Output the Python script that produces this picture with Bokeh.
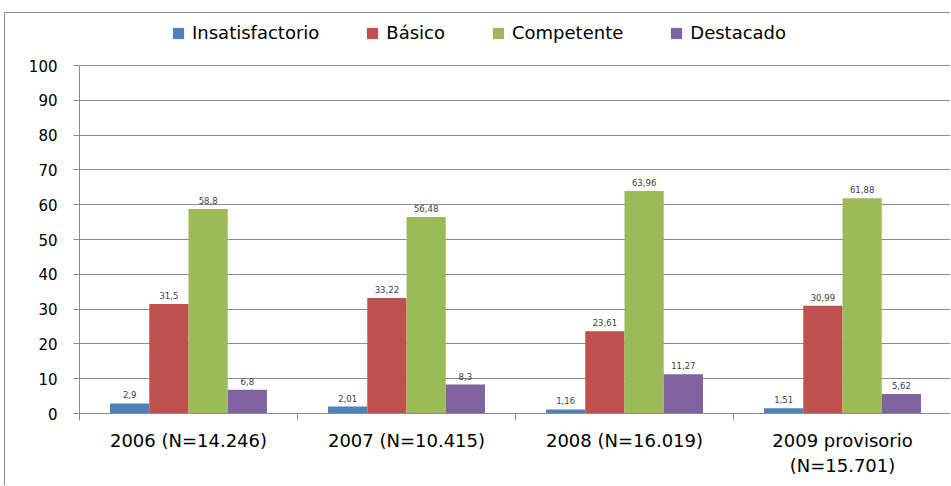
from bokeh.plotting import figure
from bokeh.models import ColumnDataSource, FixedTicker, Legend, LegendItem, LabelSet
from bokeh.core.properties import value
from bokeh.transform import dodge
from bokeh.embed import file_html
from bokeh.resources import INLINE

categories = ["2006 (N=14.246)", "2007 (N=10.415)", "2008 (N=16.019)", "2009 provisorio\n(N=15.701)"]
series_names = ["Insatisfactorio", "Básico", "Competente", "Destacado"]
insatisfactorio = [2.9, 2.01, 1.16, 1.51]
basico = [31.5, 33.22, 23.61, 30.99]
competente = [58.8, 56.48, 63.96, 61.88]
destacado = [6.8, 8.3, 11.27, 5.62]
colors = ["#4F81BD", "#C0504D", "#9BBB59", "#8064A2"]
y_ticks = list(range(0, 101, 10))

values = [insatisfactorio, basico, competente, destacado]
centers = [i + 0.5 for i in range(len(categories))]

FONT = "DejaVu Sans"
GRID = "#8c8c8c"

W, H = 946, 473
TOP, BOTTOM = 1, 73
frame_h = H - TOP - BOTTOM
y_end = 100 * frame_h / 348.0  # leave room above 100 for the legend

p = figure(width=W, height=H, x_range=(0, len(categories)), y_range=(0, y_end),
           output_backend="svg", toolbar_location=None,
           min_border_left=74, min_border_right=0, min_border_top=TOP, min_border_bottom=BOTTOM)
p.outline_line_color = None
p.styles = {"margin-left": "4px", "margin-top": "12px",
            "border-left": "1px solid #8c8c8c", "border-top": "1px solid #8c8c8c"}

data = {"x": centers}
for name, vals in zip(series_names, values):
    data[name] = vals
    data[name + "_lbl"] = [f"{v:g}".replace(".", ",") for v in vals]
src = ColumnDataSource(data)

bar_w = 0.18
offsets = [-0.27, -0.09, 0.09, 0.27]
items = []
for name, col, off in zip(series_names, colors, offsets):
    r = p.vbar(x=dodge("x", off), top=name, width=bar_w, source=src, color=col, line_color=None)
    items.append(LegendItem(label=name, renderers=[r]))
    lbl = LabelSet(x=dodge("x", off), y=name, text=name + "_lbl", source=src,
                   text_align="center", text_baseline="bottom", y_offset=5,
                   text_font=value(FONT), text_font_size="8.5px", text_color="#404040")
    p.add_layout(lbl)

legend = Legend(items=items, orientation="horizontal", location=(92, frame_h - 29),
                label_text_font=FONT, label_text_font_size="18px", label_text_color="#000000",
                glyph_width=14, glyph_height=14, label_standoff=7, spacing=46,
                border_line_color=None, background_fill_alpha=0, margin=0, padding=6)
p.add_layout(legend)

# y axis
p.yaxis.ticker = FixedTicker(ticks=y_ticks, minor_ticks=[])
p.yaxis.bounds = (0, 100)
p.yaxis.axis_line_color = GRID
p.yaxis.major_tick_line_color = GRID
p.yaxis.major_tick_out = 6
p.yaxis.major_tick_in = 0
p.yaxis.major_label_standoff = 16
p.yaxis.major_label_text_font = FONT
p.yaxis.major_label_text_font_size = "15px"
p.yaxis.major_label_text_color = "#000000"

# x axis
p.xaxis.ticker = FixedTicker(ticks=centers, minor_ticks=list(range(len(categories) + 1)))
p.xaxis.major_label_overrides = {c: lab for c, lab in zip(centers, categories)}
p.xaxis.axis_line_color = GRID
p.xaxis.major_tick_out = 0
p.xaxis.major_tick_in = 0
p.xaxis.minor_tick_line_color = GRID
p.xaxis.minor_tick_out = 7
p.xaxis.minor_tick_in = 0
p.xaxis.major_label_standoff = 9
p.xaxis.major_label_text_font = FONT
p.xaxis.major_label_text_font_size = "18px"
p.xaxis.major_label_text_color = "#000000"

p.xgrid.grid_line_color = None
p.ygrid.ticker = FixedTicker(ticks=y_ticks)
p.ygrid.grid_line_color = GRID
p.ygrid.grid_line_width = 1

open("out.html", "w").write(file_html(p, INLINE))
